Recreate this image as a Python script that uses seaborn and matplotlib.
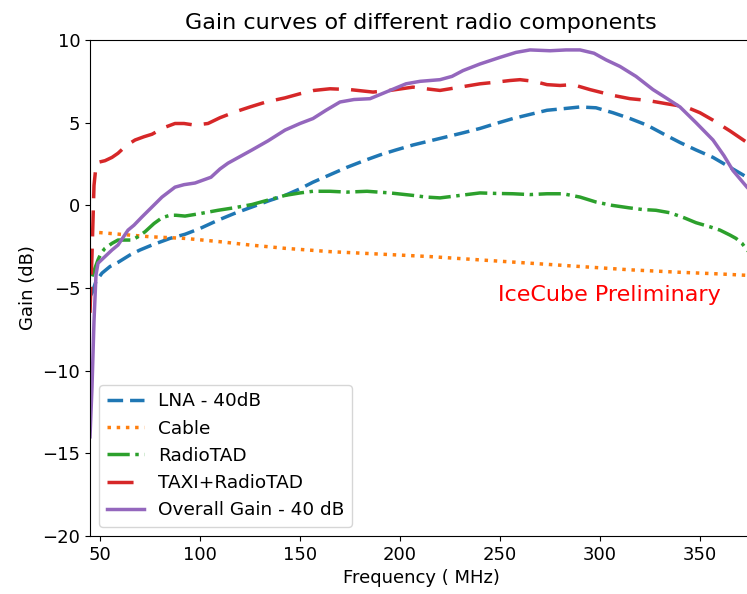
# Gain curves of the radio chain components
import matplotlib
matplotlib.use("Agg")
import matplotlib.pyplot as plt
import pandas as pd
import seaborn as sns

# %% DATA
lna_freq = [45, 46, 48, 51, 55, 59, 65, 70, 76, 85, 92.5, 100, 109, 117, 126, 135,
            142.5, 150, 156.5, 165, 173.5, 182, 190, 198, 206.5, 215, 223.5, 232,
            240, 248, 256.5, 265, 273.5, 282, 290, 298, 306.5, 315, 323.5, 332,
            340, 348, 356.5, 365, 373.5, 376]
lna_gain = [-5.5, -5.3, -4.6, -4.1, -3.7, -3.45, -3.0, -2.7, -2.4, -2.0, -1.75, -1.4,
            -0.9, -0.5, -0.1, 0.3, 0.6, 1.0, 1.4, 1.85, 2.3, 2.7, 3.05, 3.35, 3.65,
            3.9, 4.15, 4.4, 4.65, 4.95, 5.25, 5.5, 5.75, 5.85, 5.95, 5.9, 5.6, 5.25,
            4.85, 4.3, 3.8, 3.35, 2.9, 2.3, 1.7, 1.5]

cable_freq = [45, 60, 75, 92.5, 110, 125, 142.5, 165, 190, 215, 240, 265, 290, 315,
              340, 360, 376]
cable_gain = [-1.6, -1.75, -1.9, -2.0, -2.2, -2.4, -2.6, -2.8, -2.95, -3.1, -3.3,
              -3.5, -3.7, -3.9, -4.05, -4.15, -4.25]

tad_freq = [46, 47.5, 49, 50.5, 52.5, 56, 59, 63, 66, 69, 72.5, 77, 81, 85, 88, 92.5,
            100, 109, 117, 126, 135, 142.5, 150, 156.5, 165, 173.5, 183.5, 195,
            206.5, 213, 220, 230, 240, 248, 256.5, 265, 273.5, 281.5, 290, 298, 306,
            314.5, 321, 328, 335, 342, 348, 355, 360, 365, 368, 371, 373.5, 376]
tad_gain = [-4.3, -3.8, -3.3, -2.9, -2.6, -2.3, -2.1, -2.1, -2.1, -1.9, -1.6, -1.1,
            -0.75, -0.6, -0.6, -0.65, -0.5, -0.3, -0.15, 0.05, 0.35, 0.6, 0.75, 0.85,
            0.85, 0.8, 0.85, 0.75, 0.6, 0.5, 0.45, 0.6, 0.75, 0.72, 0.7, 0.65, 0.7,
            0.7, 0.5, 0.2, 0.0, -0.15, -0.25, -0.3, -0.45, -0.75, -1.05, -1.3, -1.5,
            -1.8, -2.0, -2.3, -2.7, -3.0]

taxi_freq = [45, 46, 47, 48, 49, 52.5, 56, 59, 63, 67.5, 72, 76, 82, 87.5, 92, 97.5,
             104, 110, 117.5, 125, 133, 142.5, 150, 157, 165, 175, 186.5, 195, 206.5,
             213, 220, 230, 240, 248, 255, 260, 267, 273.5, 280, 286.5, 295, 306.5,
             315, 323.5, 333, 343, 350, 356.5, 365, 373.5, 376]
taxi_gain = [-6.5, -3.0, 1.2, 2.4, 2.6, 2.7, 2.9, 3.15, 3.6, 3.95, 4.15, 4.3, 4.7,
             4.95, 4.95, 4.85, 4.95, 5.3, 5.65, 5.95, 6.25, 6.5, 6.75, 6.95, 7.05,
             7.0, 6.85, 6.95, 7.15, 7.05, 6.95, 7.15, 7.35, 7.45, 7.55, 7.6, 7.5, 7.3,
             7.25, 7.3, 7.0, 6.65, 6.45, 6.35, 6.15, 5.95, 5.6, 5.15, 4.5, 3.8, 3.6]

total_freq = [45, 46, 47, 48, 49, 52.5, 56, 59, 64, 67, 71, 76, 81, 87.5, 92, 97.5,
              105.5, 110, 114, 120, 126, 134, 142.5, 150, 156.5, 163, 170, 177, 185,
              190, 197, 203, 210, 220, 226, 231.5, 240, 250, 258, 265, 275, 283, 290,
              297, 303, 310, 318, 326.5, 333, 340, 348, 356.5, 362, 366.5, 370,
              373.5, 376]
total_gain = [-14.0, -11.0, -7.0, -4.2, -3.5, -3.1, -2.7, -2.4, -1.5, -1.2, -0.7,
              -0.1, 0.5, 1.1, 1.25, 1.35, 1.7, 2.2, 2.55, 2.95, 3.35, 3.9, 4.55, 4.95,
              5.25, 5.75, 6.25, 6.4, 6.45, 6.7, 7.05, 7.35, 7.5, 7.6, 7.8, 8.15, 8.55,
              8.95, 9.25, 9.4, 9.35, 9.4, 9.4, 9.2, 8.8, 8.4, 7.8, 7.0, 6.5, 5.95, 5.0,
              3.95, 3.0, 2.1, 1.6, 1.1, 0.8]

labels = ["LNA - 40dB", "Cable", "RadioTAD", "TAXI+RadioTAD", "Overall Gain - 40 dB"]
colors = ["#1f77b4", "#ff7f0e", "#2ca02c", "#d62728", "#9467bd"]
styles = [(0, (4.5, 2)), ":", "-.", (0, (7.5, 3.5)), "-"]

# %% PLOT
plt.rcParams["font.size"] = 13
fig = plt.figure(figsize=(7.47, 5.94), dpi=100)
ax = fig.add_axes([90 / 747, 1 - 536 / 594, 662 / 747, 496 / 594])

series = [(lna_freq, lna_gain), (cable_freq, cable_gain), (tad_freq, tad_gain),
          (taxi_freq, taxi_gain), (total_freq, total_gain)]
for (f, g), lab, col, ls in zip(series, labels, colors, styles):
    df = pd.DataFrame({"freq": f, "gain": g})
    sns.lineplot(data=df, x="freq", y="gain", ax=ax, color=col, linestyle=ls,
                 linewidth=2.5, label=lab, estimator=None, sort=False)

ax.text(249, -5.4, "IceCube Preliminary", color="red", fontsize=16,
        ha="left", va="center")

ax.set_xlim(45, 376)
ax.set_ylim(-20, 10)
ax.set_xticks([50, 100, 150, 200, 250, 300, 350])
ax.set_yticks([-20, -15, -10, -5, 0, 5, 10])
ax.set_xlabel("Frequency ( MHz)")
ax.set_ylabel("Gain (dB)")
ax.set_title("Gain curves of different radio components", fontsize=16, pad=8)
ax.legend(loc="lower left", fontsize=13.3)

fig.savefig("out.png", dpi=100)
